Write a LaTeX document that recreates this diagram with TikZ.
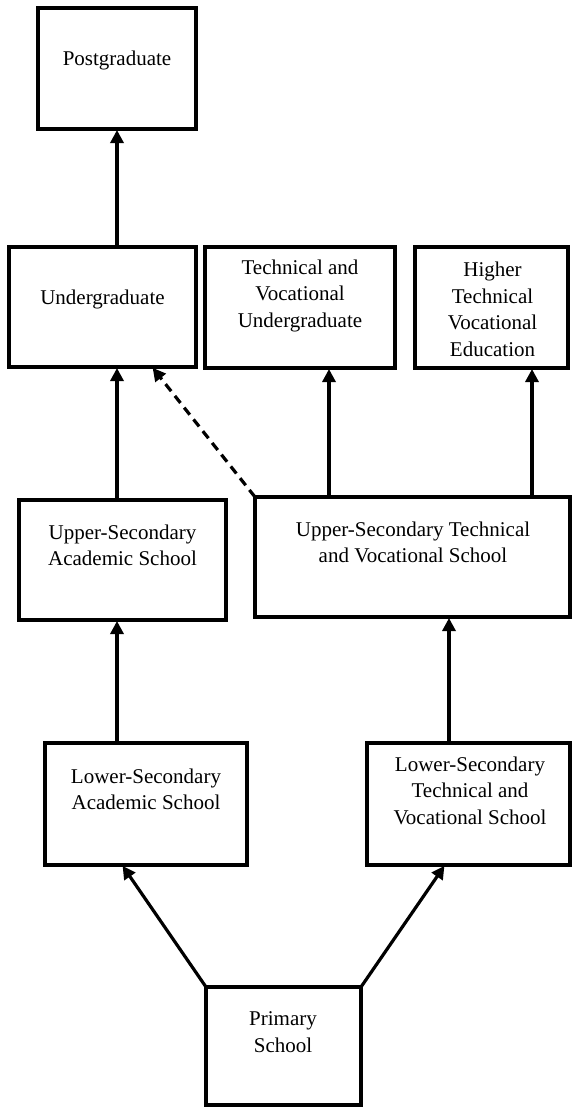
\documentclass[tikz,border=0pt]{standalone}
\usepackage{fontspec}
\setmainfont{Liberation Serif}
\usetikzlibrary{arrows.meta}

\tikzset{
  box/.style={draw=black, line width=3.4pt, fill=white, inner sep=0pt, outer sep=0pt, anchor=north west},
  label text/.style={anchor=north, inner sep=0pt, align=center,
    font=\fontsize{21}{26.7}\selectfont, execute at begin node=\strut},
  arr/.style={line width=3.2pt, -{Triangle[width=13pt,length=13pt]}, shorten >=1pt},
  dasharr/.style={arr, dash pattern=on 9pt off 6pt}
}

\begin{document}
\begin{tikzpicture}[x=1pt,y=-1pt]
  \useasboundingbox (0,0) rectangle (571,1108);

  % boxes
  \node[box, minimum width=158pt, minimum height=121pt] (pg) at (38,8) {};
  \node[box, minimum width=187pt, minimum height=120pt] (ug) at (9,247) {};
  \node[box, minimum width=190pt, minimum height=121pt] (tu) at (205,247) {};
  \node[box, minimum width=153pt, minimum height=121pt] (ht) at (415,247) {};
  \node[box, minimum width=207pt, minimum height=120pt] (ua) at (19,500) {};
  \node[box, minimum width=315pt, minimum height=120pt] (ut) at (255,497) {};
  \node[box, minimum width=202pt, minimum height=122pt] (la) at (45,743) {};
  \node[box, minimum width=203pt, minimum height=122pt] (lt) at (367,743) {};
  \node[box, minimum width=155pt, minimum height=118pt] (pr) at (206,987) {};

  % labels
  \node[label text] (pgt) at (117,46.3) {Postgraduate};
  \node[label text] (ugt) at (102.5,285.3) {Undergraduate};
  \node[label text] (tut) at (300,259.3) {Technical and\\Vocational\\Undergraduate};
  \begin{scope}
    % the last line of this box is cut off by the text area
    \clip (415,247) rectangle (568,356);
    \node[label text] (htt) at (492.5,261.8) {Higher\\Technical\\Vocational\\Education};
  \end{scope}
  \node[label text] (uat) at (122.5,524.3) {Upper-Secondary\\Academic School};
  \node[label text] (utt) at (413,521.3) {Upper-Secondary Technical\\and Vocational School};
  \node[label text] (lat) at (146,768.3) {Lower-Secondary\\Academic School};
  \node[label text] (ltt) at (470,756.3) {Lower-Secondary\\Technical and\\Vocational School};
  \node[label text] (prt) at (283,1011.3) {Primary\\School};

  % connectors
  \draw[arr] (ug.north -| pg.south) -- (pg.south);
  \draw[arr] (ua.north -| pg.south) -- (ug.south -| pg.south);
  \draw[arr] (la.north -| pg.south) -- (ua.south -| pg.south);
  \draw[arr] (ut.north -| 329,0) -- (tu.south -| 329,0);
  \draw[arr] (ut.north -| 532,0) -- (ht.south -| 532,0);
  \draw[arr] (lt.north -| 449,0) -- (ut.south -| 449,0);
  \draw[arr] (pr.north west) -- (la.south -| 122,0);
  \draw[arr] (pr.north east) -- (lt.south -| 445,0);
  \draw[dasharr] (ut.north west) -- (ug.south -| 152,0);
\end{tikzpicture}
\end{document}
